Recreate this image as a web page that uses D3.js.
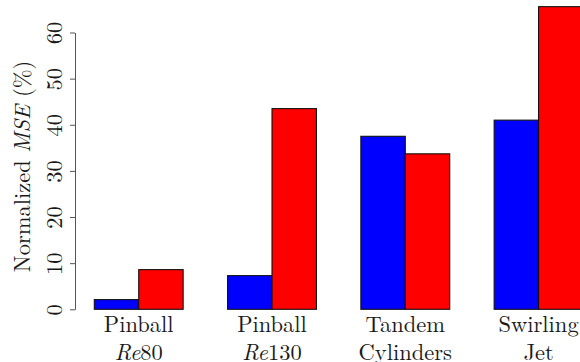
<!DOCTYPE html>
<html>
<head>
<meta charset="utf-8">
<script src="https://cdn.jsdelivr.net/npm/d3@7"></script>
<style>
  html, body { margin: 0; padding: 0; background: #fff; }
  svg { display: block; }
</style>
</head>
<body>
<svg id="chart" width="580" height="362"></svg>
<script>
// Case names: first line, second-line prefix (italic) and second-line suffix
const categories = ["Pinball Re80", "Pinball Re130", "Tandem Cylinders", "Swirling Jet"];
const labelLine1 = ["Pinball", "Pinball", "Tandem", "Swirling"];
const labelLine2Italic = ["Re", "Re", "", ""];
const labelLine2Plain = ["80", "130", "Cylinders", "Jet"];

// Normalized MSE (%) for the two methods
const methodA = [2.1, 7.3, 37.5, 41.0];
const methodB = [8.6, 43.5, 33.7, 65.6];
const seriesNames = ["methodA", "methodB"];
const seriesColors = ["#0000ff", "#ff0000"];

const yTicks = [0, 10, 20, 30, 40, 50, 60];

const svg = d3.select("#chart");
const serif = '"Latin Modern Roman", "Liberation Serif", serif';
const fontSize = 22.5;
const ink = "#1a1a1a";

const x = d3.scaleBand()
  .domain(categories)
  .range([94.3, 583])
  .paddingInner(1 / 3)
  .paddingOuter(0);

const xSub = d3.scaleBand()
  .domain(seriesNames)
  .range([0, x.bandwidth()])
  .padding(0);

const y = d3.scaleLinear().domain([0, 60]).range([309.3, 32.5]);

const rows = categories.map((c, i) => ({ cat: c, values: [methodA[i], methodB[i]] }));

// Bars
const groups = svg.append("g").selectAll("g")
  .data(rows).join("g")
  .attr("transform", d => `translate(${x(d.cat)},0)`);

groups.selectAll("rect")
  .data(d => d.values.map((v, k) => ({ key: seriesNames[k], v, color: seriesColors[k] })))
  .join("rect")
  .attr("x", d => xSub(d.key))
  .attr("width", xSub.bandwidth())
  .attr("y", d => y(d.v))
  .attr("height", d => y(0) - y(d.v))
  .attr("fill", d => d.color)
  .attr("stroke", "#111")
  .attr("stroke-width", 1.1);

// Y axis (labels parallel to the axis)
const axisG = svg.append("g")
  .attr("transform", "translate(75,0)")
  .call(d3.axisLeft(y).tickValues(yTicks).tickSize(5).tickSizeOuter(0).tickFormat(d3.format("d")));
axisG.attr("font-family", null).attr("font-size", null);
axisG.select(".domain").attr("stroke", "#555").attr("stroke-width", 1);
axisG.selectAll(".tick line").attr("stroke", "#555").attr("stroke-width", 1);
axisG.selectAll(".tick text").remove();
axisG.selectAll(".tick").append("text")
  .attr("transform", "translate(-13,0) rotate(-90)")
  .attr("text-anchor", "middle")
  .style("font-family", serif)
  .style("font-size", fontSize + "px")
  .style("fill", ink)
  .text(d => d);

// Y axis title
const title = svg.append("text")
  .attr("transform", "translate(29.5,166.5) rotate(-90)")
  .attr("text-anchor", "middle")
  .style("font-family", serif)
  .style("font-size", fontSize + "px")
  .style("fill", ink);
title.append("tspan").text("Normalized ");
title.append("tspan").style("font-style", "italic").text("MSE");
title.append("tspan").text(" (%)");

// Category labels, two lines each
const labels = svg.append("g").selectAll("g")
  .data(categories).join("g")
  .attr("transform", d => `translate(${x(d) + x.bandwidth() / 2},0)`);

labels.append("text")
  .attr("y", 331.5)
  .attr("text-anchor", "middle")
  .style("font-family", serif)
  .style("font-size", fontSize + "px")
  .style("fill", ink)
  .text((d, i) => labelLine1[i]);

const l2 = labels.append("text")
  .attr("y", 359.5)
  .attr("text-anchor", "middle")
  .style("font-family", serif)
  .style("font-size", fontSize + "px")
  .style("fill", ink);
l2.append("tspan").style("font-style", "italic").text((d, i) => labelLine2Italic[i]);
l2.append("tspan").text((d, i) => labelLine2Plain[i]);
</script>
</body>
</html>
